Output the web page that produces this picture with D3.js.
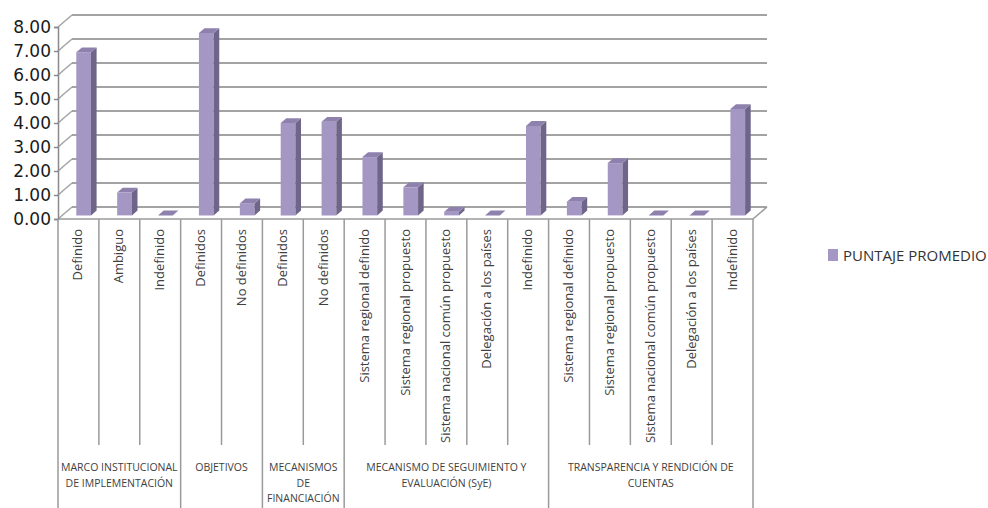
<!DOCTYPE html>
<html>
<head>
<meta charset="utf-8">
<script src="https://cdn.jsdelivr.net/npm/d3@7/dist/d3.min.js"></script>
<style>
  html, body { margin: 0; padding: 0; background: #ffffff; }
  svg { display: block; }
</style>
</head>
<body>
<svg id="chart" width="988" height="508"></svg>
<script>
// ---------------- DATA ----------------
const categories = [
  "Definido", "Ambiguo", "Indefinido",
  "Definidos", "No definidos",
  "Definidos", "No definidos",
  "Sistema regional definido", "Sistema regional propuesto", "Sistema nacional común propuesto", "Delegación a los países", "Indefinido",
  "Sistema regional definido", "Sistema regional propuesto", "Sistema nacional común propuesto", "Delegación a los países", "Indefinido"
];
const values = [6.8, 0.95, 0.0, 7.6, 0.5, 3.85, 3.9, 2.43, 1.17, 0.15, 0.0, 3.73, 0.57, 2.18, 0.0, 0.0, 4.43];
const groupNames = [
  ["MARCO INSTITUCIONAL", "DE IMPLEMENTACIÓN"],
  ["OBJETIVOS"],
  ["MECANISMOS", "DE", "FINANCIACIÓN"],
  ["MECANISMO DE SEGUIMIENTO Y", "EVALUACIÓN (SyE)"],
  ["TRANSPARENCIA Y RENDICIÓN DE", "CUENTAS"]
];
const groupSizes = [3, 2, 2, 5, 5];
const yTicks = [0, 1, 2, 3, 4, 5, 6, 7, 8];
const seriesName = "PUNTAJE PROMEDIO";

// ---------------- LAYOUT ----------------
const svg = d3.select("#chart");
const x0 = 58, x1 = 753;
const dx = 14, dy = -12;          // depth offset of the 3D walls
const f1 = 0.3, f2 = 0.7;         // bar front / back depth fractions
const gridColor = "#a3a3a3";
const frameColor = "#9a9a9a";
const colFront = "#a597c4", colSide = "#6f6589", colTop = "#8e81ae";

const x = d3.scaleBand().domain(d3.range(categories.length)).range([x0, x1]).padding(0);
const y = d3.scaleLinear().domain([0, 8]).range([219, 27]);
const bw = x.bandwidth();

// back-wall gridlines
svg.append("g").selectAll("line.grid").data(yTicks).join("line")
  .attr("x1", x0 + dx).attr("x2", x1 + dx)
  .attr("y1", d => y(d) + dy).attr("y2", d => y(d) + dy)
  .attr("stroke", gridColor).attr("stroke-width", 1.8);

// side wall diagonals
svg.append("g").selectAll("line").data(yTicks).join("line")
  .attr("x1", x0).attr("x2", x0 + dx)
  .attr("y1", d => y(d)).attr("y2", d => y(d) + dy)
  .attr("stroke", gridColor).attr("stroke-width", 1.5);

// floor front edge & right edge
svg.append("line").attr("x1", x0).attr("x2", x1).attr("y1", y(0)).attr("y2", y(0))
  .attr("stroke", frameColor).attr("stroke-width", 1.5);
svg.append("line").attr("x1", x1).attr("x2", x1 + dx).attr("y1", y(0)).attr("y2", y(0) + dy)
  .attr("stroke", frameColor).attr("stroke-width", 1.5);

// y axis
const yAxis = d3.axisLeft(y).tickValues(yTicks).tickFormat(d3.format(".2f")).tickSize(4).tickPadding(3);
const gy = svg.append("g").attr("transform", `translate(${x0},0)`).call(yAxis);
gy.select(".domain").attr("stroke", "#8a8a8a").attr("stroke-width", 1.5);
gy.selectAll(".tick line").attr("stroke", "#8a8a8a").attr("stroke-width", 1.5);
gy.selectAll(".tick text")
  .attr("font-family", "'DejaVu Sans', sans-serif")
  .attr("font-size", 17).attr("fill", "#1a1a1a");

// bars
const bwid = bw * 0.36;
const bars = svg.append("g").selectAll("g").data(values).join("g");
function pts(arr) { return arr.map(p => p.join(",")).join(" "); }
bars.each(function(v, i) {
  const g = d3.select(this);
  const cx = x(i) + bw / 2 + 1;
  const xl = cx - bwid / 2, xr = cx + bwid / 2;
  const yt = y(v), yb = y(0);
  // front
  g.append("polygon").attr("points", pts([
    [xl + f1*dx, yt + f1*dy], [xr + f1*dx, yt + f1*dy], [xr + f1*dx, yb + f1*dy], [xl + f1*dx, yb + f1*dy]
  ])).attr("fill", colFront);
  // side
  g.append("polygon").attr("points", pts([
    [xr + f1*dx, yt + f1*dy], [xr + f2*dx, yt + f2*dy], [xr + f2*dx, yb + f2*dy], [xr + f1*dx, yb + f1*dy]
  ])).attr("fill", colSide);
  // top
  g.append("polygon").attr("points", pts([
    [xl + f1*dx, yt + f1*dy], [xr + f1*dx, yt + f1*dy], [xr + f2*dx, yt + f2*dy], [xl + f2*dx, yt + f2*dy]
  ])).attr("fill", colTop);
});

// category label box: separators
const boundaries = [0];
groupSizes.reduce((acc, n) => { acc += n; boundaries.push(acc); return acc; }, 0);
const sepIdx = d3.range(0, categories.length + 1);
svg.append("g").selectAll("line").data(sepIdx).join("line")
  .attr("x1", i => i === categories.length ? x1 : x(i))
  .attr("x2", i => i === categories.length ? x1 : x(i))
  .attr("y1", y(0))
  .attr("y2", i => boundaries.includes(i) ? 508 : 445)
  .attr("stroke", frameColor).attr("stroke-width", 1.5);

// category labels (rotated)
svg.append("g").selectAll("text").data(categories).join("text")
  .attr("transform", (d, i) => `translate(${x(i) + bw / 2 + 4},229) rotate(-90)`)
  .attr("text-anchor", "end")
  .attr("font-family", "'Open Sans', sans-serif")
  .attr("font-size", 13)
  .attr("fill", "#404040")
  .text(d => d);

// group labels
const gl = svg.append("g");
groupNames.forEach((lines, gi) => {
  const a = boundaries[gi], b = boundaries[gi + 1];
  const cx = (x(a) + (b === categories.length ? x1 : x(b))) / 2;
  lines.forEach((ln, li) => {
    gl.append("text")
      .attr("x", cx).attr("y", 471 + li * 15.5)
      .attr("text-anchor", "middle")
      .attr("font-family", "'Open Sans', sans-serif")
      .attr("font-size", 10.5)
      .attr("fill", "#404040")
      .text(ln);
  });
});

// legend
const lg = svg.append("g").attr("transform", "translate(828,249)");
lg.append("rect").attr("width", 10).attr("height", 12).attr("fill", colFront);
lg.append("text").attr("x", 15).attr("y", 12)
  .attr("font-family", "'Open Sans', sans-serif").attr("font-size", 15)
  .attr("fill", "#333").text(seriesName);
</script>
</body>
</html>
